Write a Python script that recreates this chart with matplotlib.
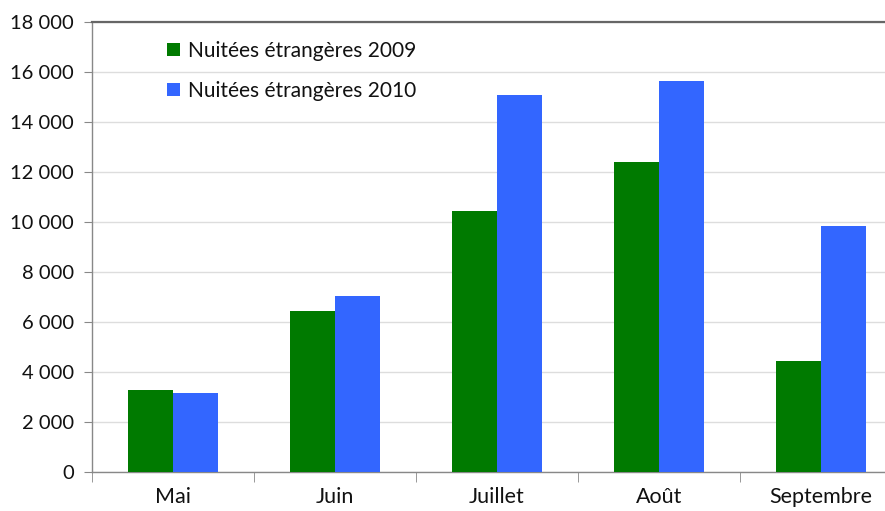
import matplotlib
matplotlib.use("Agg")
import matplotlib.pyplot as plt
import numpy as np
from matplotlib.ticker import FixedLocator, FuncFormatter

months = ["Mai", "Juin", "Juillet", "Août", "Septembre"]
nuitees_2009 = [3300, 6450, 10450, 12400, 4450]
nuitees_2010 = [3150, 7050, 15100, 15650, 9850]
labels = ["Nuitées étrangères 2009", "Nuitées étrangères 2010"]
yticks = list(range(0, 18001, 2000))

plt.rcParams['font.family'] = ['Lato', 'DejaVu Sans']

fig = plt.figure(figsize=(8.85, 5.11), dpi=100)
ax = fig.add_axes([92/885, 39/511, 810/885, 450/511])

x = np.arange(len(months))
w = 0.28
ax.bar(x - w/2, nuitees_2009, w, color="#007a00", label=labels[0], zorder=3)
ax.bar(x + w/2, nuitees_2010, w, color="#3366ff", label=labels[1], zorder=3)

ax.set_xlim(-0.5, len(months) - 0.5)
ax.set_ylim(0, 18000)
ax.set_yticks(yticks)
ax.yaxis.set_major_formatter(FuncFormatter(lambda v, p: f"{int(v):,}".replace(",", " ")))
ax.grid(axis="y", color="#dddddd", linewidth=1, zorder=0)
ax.set_xticks(x)
ax.set_xticklabels(months)
ax.tick_params(axis="x", which="major", length=0, pad=11, labelsize=15.5, labelcolor="#111111")
ax.xaxis.set_minor_locator(FixedLocator(np.arange(-0.5, len(months), 1.0)))
ax.tick_params(axis="x", which="minor", length=7, color="#888888", direction="out")
ax.tick_params(axis="y", length=6, color="#888888", labelsize=14.5, pad=7, labelcolor="#111111")

ax.spines["right"].set_visible(False)
ax.spines["top"].set_color("#666666")
ax.spines["top"].set_linewidth(1.6)
for s in ["left", "bottom"]:
    ax.spines[s].set_color("#888888")
    ax.spines[s].set_linewidth(1)

ax.legend(loc="upper left", bbox_to_anchor=(0.07, 1.0), frameon=False, fontsize=15,
          handlelength=0.6, handleheight=0.6, handletextpad=0.4, labelspacing=0.95,
          labelcolor="#111111")

fig.savefig("out.png", dpi=100)
